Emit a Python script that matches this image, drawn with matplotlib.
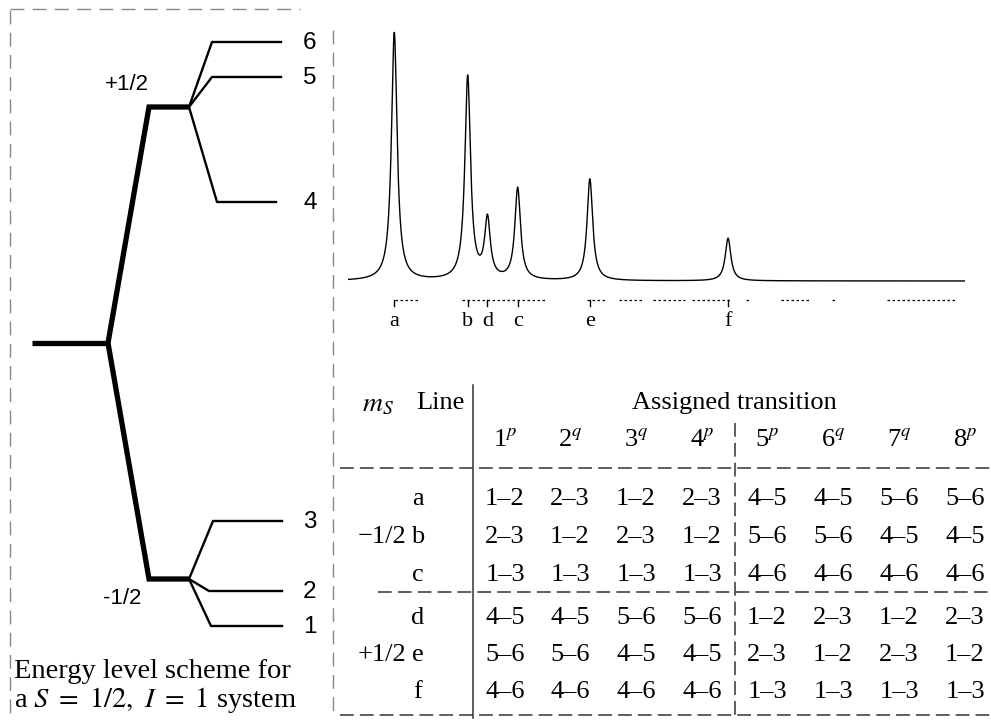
import numpy as np
import matplotlib
matplotlib.use("Agg")
import matplotlib.pyplot as plt

plt.rcParams['mathtext.fontset'] = 'stix'

# --- energy level scheme (pixel units of the original figure) ---
ms_labels = ['+1/2', '-1/2']
ms_y = [107, 579]
zero_y = 343
level_names = ['1', '2', '3', '4', '5', '6']
level_y = [626, 591, 521, 202, 77, 42]
level_x_start = [211, 209, 213, 217, 212, 212]
level_x_end = [282, 282, 282, 276, 281, 281]
level_ms = [1, 1, 1, 0, 0, 0]   # index into ms_y

# --- spectrum ---
line_names = ['a', 'b', 'd', 'c', 'e', 'f']
line_pos = [7.5, 19.4, 22.6, 27.5, 39.2, 61.6]
line_amp = [1.0, 0.82, 0.24, 0.37, 0.41, 0.172]
line_width = 0.55
dot_segments = [(7.6, 11.3), (18.4, 32.0), (38.7, 41.8), (44.0, 47.9),
                (49.5, 54.7), (55.8, 61.9), (64.5, 65.2), (70.2, 74.7),
                (78.4, 79.0), (87.4, 98.4)]

# --- table ---
col_heads = ['1', '2', '3', '4', '5', '6', '7', '8']
col_sup = ['p', 'q', 'q', 'p', 'p', 'q', 'q', 'p']
row_lines = ['a', 'b', 'c', 'd', 'e', 'f']
row_ms = {'b': '\u22121/2', 'e': '+1/2'}
table = [
    ['1–2', '2–3', '1–2', '2–3', '4–5', '4–5', '5–6', '5–6'],
    ['2–3', '1–2', '2–3', '1–2', '5–6', '5–6', '4–5', '4–5'],
    ['1–3', '1–3', '1–3', '1–3', '4–6', '4–6', '4–6', '4–6'],
    ['4–5', '4–5', '5–6', '5–6', '1–2', '2–3', '1–2', '2–3'],
    ['5–6', '5–6', '4–5', '4–5', '2–3', '1–2', '2–3', '1–2'],
    ['4–6', '4–6', '4–6', '4–6', '1–3', '1–3', '1–3', '1–3'],
]
col_x = [505, 570, 636, 702, 767, 833, 899, 965]
row_y = [499, 537, 575, 618, 655, 692]

fig = plt.figure(figsize=(9.91, 7.21), dpi=100)
ax = fig.add_axes([0, 0, 1, 1])
ax.set_xlim(0, 991)
ax.set_ylim(721, 0)
ax.axis('off')

sans = 'Liberation Sans'
serif = 'Liberation Serif'

# frame around the level scheme
frame_kw = dict(color='#888888', lw=1, ls=(0, (10, 6)))
ax.plot([10, 10], [10, 715], **frame_kw)
ax.plot([10, 300], [9, 9], **frame_kw)
ax.plot([333, 333], [30, 715], **frame_kw)

# zero-field level and the electron Zeeman split
ax.plot([32, 108], [zero_y, zero_y], color='black', lw=3.8, solid_capstyle='butt')
for y in ms_y:
    ax.plot([108, 149, 189], [zero_y, y, y], color='black', lw=3.8,
            solid_joinstyle='miter', solid_capstyle='butt')

# hyperfine levels
for name, y, xs, xe, m in zip(level_names, level_y, level_x_start, level_x_end, level_ms):
    ax.plot([189, xs, xe], [ms_y[m], y, y], color='black', lw=1.7)
    ax.text(310, y + 1, name, ha='center', va='center', fontsize=17.5, family=sans)

ax.text(127, 84, '+1/2', ha='center', va='center', fontsize=16, family=sans)
ax.text(122, 598, '-1/2', ha='center', va='center', fontsize=16, family=sans)

ax.text(14, 672, 'Energy level scheme for', ha='left', va='center',
        fontsize=20.5, family=serif)
ax.text(14, 700, r'a $S\ =\ 1/2,\ I\ =\ 1$ system', ha='left', va='center',
        fontsize=20.5, family=serif)

# spectrum
sax = fig.add_axes([348 / 991, (721 - 340) / 721, 617 / 991, 340 / 721])
sax.set_xlim(0, 100)
sax.set_ylim(-59 / 248, 281 / 248)
sax.axis('off')
x = np.linspace(0, 100, 5000)
y = np.zeros_like(x)
for p, a in zip(line_pos, line_amp):
    y += a * line_width ** 2 / ((x - p) ** 2 + line_width ** 2)
sax.plot(x, y, color='black', lw=1.0)

tick_y = -19 / 248
for s, e in dot_segments:
    sax.plot([s, e], [tick_y, tick_y], color='black', lw=0.9, ls=(0, (2, 2)))
for name, p in zip(line_names, line_pos):
    sax.plot([p, p], [tick_y, tick_y - 6 / 248], color='black', lw=1)
    sax.text(p, -41 / 248, name, ha='center', va='center', fontsize=16, family=serif)

# table
ax.text(378, 403, r'$m_S$', ha='center', va='center', fontsize=20)
ax.text(440, 403, 'Line', ha='center', va='center', fontsize=19, family=serif)
ax.text(734, 403, 'Assigned transition', ha='center', va='center', fontsize=19,
        family=serif)
for cx, h, s in zip(col_x, col_heads, col_sup):
    ax.text(cx, 440, h + r'$^{%s}$' % s, ha='center', va='center', fontsize=19,
            family=serif)
for ry, ln, row in zip(row_y, row_lines, table):
    ax.text(418, ry, ln, ha='center', va='center', fontsize=19, family=serif)
    if ln in row_ms:
        ax.text(382, ry, row_ms[ln], ha='center', va='center', fontsize=19,
                family=serif)
    for cx, cell in zip(col_x, row):
        ax.text(cx, ry, cell, ha='center', va='center', fontsize=19, family=serif)

rule_kw = dict(color='#333333', lw=1.1, ls=(0, (9, 4)))
ax.plot([473, 473], [385, 718], color='#333333', lw=1.1)
ax.plot([735, 735], [423, 718], **rule_kw)
ax.plot([340, 991], [468, 468], **rule_kw)
ax.plot([378, 991], [592, 592], **rule_kw)
ax.plot([340, 991], [715, 715], **rule_kw)

fig.savefig('out.png', dpi=100)
